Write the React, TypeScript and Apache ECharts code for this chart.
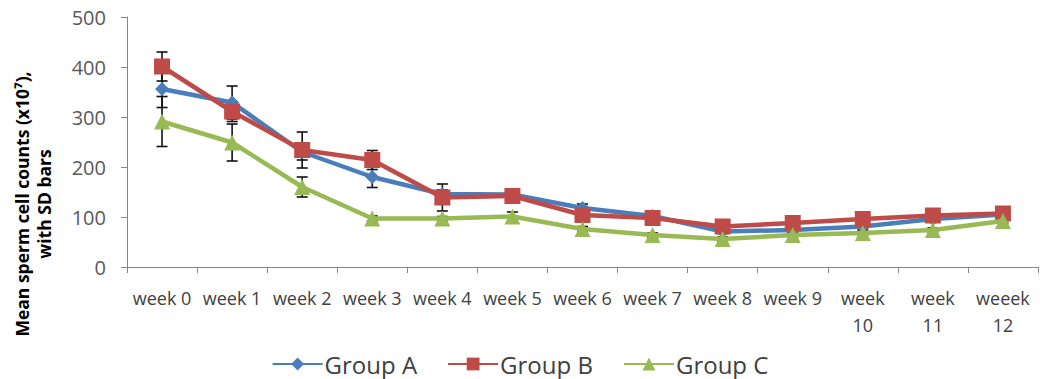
import React, { useEffect, useRef } from "react";
import * as echarts from "echarts";

// Sampling weeks along the x axis
const categories = [
  "week 0", "week 1", "week 2", "week 3", "week 4", "week 5", "week 6",
  "week 7", "week 8", "week 9", "week 10", "week 11", "weeek 12",
];

// Mean sperm cell counts (x10^7) per group
const groupA = [356, 329, 230, 180, 146, 145, 118, 102, 71, 74, 81, 96, 105];
const groupB = [401, 311, 234, 214, 139, 142, 104, 98, 81, 88, 96, 103, 107];
const groupC = [291, 249, 160, 97, 97, 101, 76, 64, 56, 64, 68, 74, 92];

// Standard deviations for the error bars
const sdA = [37, 33, 16, 21, 8, 6, 8, 6, 4, 4, 5, 5, 5];
const sdB = [29, 20, 36, 19, 27, 6, 6, 5, 4, 4, 5, 5, 5];
const sdC = [50, 37, 20, 5, 4, 9, 5, 4, 4, 4, 4, 4, 4];

const yTicks = { min: 0, max: 500, interval: 100 };

const FONT = "'Open Sans', 'Liberation Sans', sans-serif";
const BLUE = "#4A7EBB";
const RED = "#BE4B48";
const GREEN = "#98B954";

function errorData(means: number[], sds: number[]) {
  return means.map((m, i) => [i, m - sds[i], m + sds[i]]);
}

function errorSeries(means: number[], sds: number[]) {
  return {
    type: "custom",
    z: 1,
    silent: true,
    data: errorData(means, sds),
    renderItem: (_params: any, api: any) => {
      const x = api.value(0);
      const lo = api.coord([x, api.value(1)]);
      const hi = api.coord([x, api.value(2)]);
      const half = 5.5;
      const style = { stroke: "#111", lineWidth: 1.6 };
      return {
        type: "group",
        children: [
          { type: "line", shape: { x1: lo[0], y1: lo[1], x2: hi[0], y2: hi[1] }, style },
          { type: "line", shape: { x1: lo[0] - half, y1: lo[1], x2: lo[0] + half, y2: lo[1] }, style },
          { type: "line", shape: { x1: hi[0] - half, y1: hi[1], x2: hi[0] + half, y2: hi[1] }, style },
        ],
      };
    },
  };
}

function lineSeries(name: string, data: number[], color: string, symbol: string, size: number, z: number) {
  return {
    name,
    type: "line",
    data,
    z,
    symbol,
    symbolSize: size,
    lineStyle: { color, width: 4.5 },
    itemStyle: { color, borderWidth: 0 },
  };
}

export default function App() {
  const ref = useRef<HTMLDivElement>(null);

  useEffect(() => {
    if (!ref.current) return;
    const chart = echarts.init(ref.current, null, { renderer: "svg" });
    chart.setOption({
      animation: false,
      backgroundColor: "#ffffff",
      grid: { left: 127, right: 2, top: 17, bottom: 112, containLabel: false },
      xAxis: {
        type: "category",
        data: categories,
        boundaryGap: true,
        axisLine: { lineStyle: { color: "#868686", width: 1 } },
        axisTick: { show: true, length: 6, lineStyle: { color: "#868686" } },
        axisLabel: {
          interval: 0,
          margin: 17,
          color: "#404040",
          fontFamily: FONT,
          fontSize: 18,
          lineHeight: 27,
          formatter: (v: string) => (v.length > 6 ? v.replace(" ", "\n") : v),
        },
        splitLine: { show: false },
      },
      yAxis: {
        type: "value",
        min: yTicks.min,
        max: yTicks.max,
        interval: yTicks.interval,
        axisLine: { show: true, lineStyle: { color: "#868686", width: 1 } },
        axisTick: { show: true, length: 6, lineStyle: { color: "#868686" } },
        axisLabel: { margin: 21, color: "#595959", fontFamily: FONT, fontSize: 20 },
        splitLine: { show: false },
      },
      legend: {
        data: ["Group A", "Group B", "Group C"],
        left: "center",
        top: 347,
        itemWidth: 50,
        itemHeight: 16,
        itemGap: 30,
        textStyle: { fontFamily: FONT, fontSize: 24, color: "#404040", padding: [0, 0, 0, -3] },
      },
      graphic: [
        {
          type: "text",
          x: 22,
          y: 204,
          rotation: Math.PI / 2,
          style: {
            text: "Mean sperm cell counts (x10\u2077),",
            font: `bold 17.5px ${FONT}`,
            fill: "#000",
            align: "center",
            verticalAlign: "middle",
          },
        },
        {
          type: "text",
          x: 44,
          y: 204,
          rotation: Math.PI / 2,
          style: {
            text: "with SD bars",
            font: `bold 17.5px ${FONT}`,
            fill: "#000",
            align: "center",
            verticalAlign: "middle",
          },
        },
      ],
      series: [
        errorSeries(groupA, sdA),
        errorSeries(groupB, sdB),
        errorSeries(groupC, sdC),
        lineSeries("Group A", groupA, BLUE, "diamond", 14, 3),
        lineSeries("Group B", groupB, RED, "rect", 16, 4),
        lineSeries("Group C", groupC, GREEN, "triangle", 16, 5),
      ],
    });
    return () => chart.dispose();
  }, []);

  return <div ref={ref} style={{ width: 1040, height: 379, position: "absolute", left: 0, top: 0 }} />;
}
